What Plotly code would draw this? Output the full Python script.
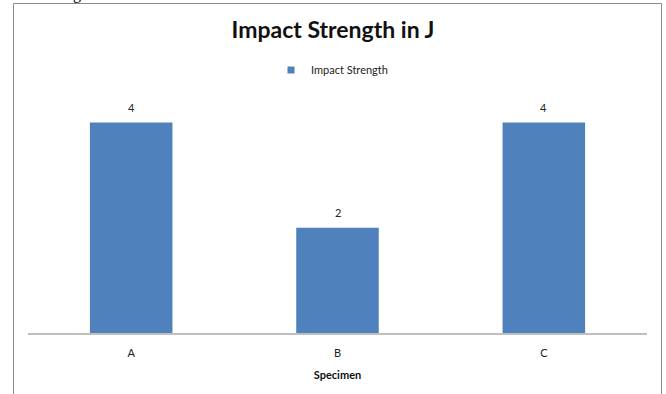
import plotly.graph_objects as go

# Impact test results per specimen
specimens = ["A", "B", "C"]
impact_strength = [4, 2, 4]

W, H = 666, 394
ML, MR, MT, MB = 28, 19, 70, 61
BAR_COLOR = "#4F81BD"
FONT = "Lato"

fig = go.Figure()

fig.add_trace(go.Bar(
    x=specimens,
    y=impact_strength,
    marker=dict(color=BAR_COLOR, line=dict(width=0)),
    showlegend=False,
    name="Impact Strength",
))

# value labels above each bar
for cat, val in zip(specimens, impact_strength):
    fig.add_annotation(
        x=cat, y=val, text=str(val), xref="x", yref="y",
        yanchor="bottom", yshift=7, showarrow=False,
        font=dict(family=FONT, size=11, color="#222222"),
    )

# legend key drawn as a small square
fig.add_trace(go.Scatter(
    x=[None], y=[None], mode="markers",
    marker=dict(symbol="square", size=7, color=BAR_COLOR),
    name="Impact Strength",
    showlegend=True,
))

pw = W - ML - MR
ph = H - MT - MB


def px_to_paper_x(px):
    return (px - ML) / pw


def px_to_paper_y(py):
    return (H - MB - py) / ph


# outer chart frame
fig.add_shape(
    type="rect", xref="paper", yref="paper",
    x0=px_to_paper_x(13.5), x1=px_to_paper_x(661.5),
    y0=px_to_paper_y(400), y1=px_to_paper_y(3.5),
    line=dict(color="#8c8c8c", width=1), fillcolor="rgba(0,0,0,0)",
    layer="below",
)

# fragment of surrounding text above the frame
fig.add_annotation(
    text="g", xref="paper", yref="paper",
    x=px_to_paper_x(71), y=px_to_paper_y(5), yanchor="bottom",
    showarrow=False, font=dict(family="Liberation Serif", size=16, color="#000000"),
)

fig.update_layout(
    width=W, height=H,
    margin=dict(l=ML, r=MR, t=MT, b=MB, pad=0, autoexpand=False),
    paper_bgcolor="white", plot_bgcolor="white",
    bargap=0.6,
    title=dict(
        text="<b>Impact Strength in J</b>",
        x=0.5, xref="container", xanchor="center",
        y=1 - 30 / H, yref="container", yanchor="middle",
        font=dict(family=FONT, size=23, color="#111111"),
    ),
    legend=dict(
        orientation="h",
        xref="paper", yref="paper",
        x=px_to_paper_x(271), xanchor="left",
        y=px_to_paper_y(70), yanchor="middle",
        font=dict(family=FONT, size=11, color="#222222"),
        bgcolor="rgba(0,0,0,0)",
    ),
    xaxis=dict(
        showline=True, linecolor="#bfbfbf", linewidth=2,
        ticks="", showgrid=False, zeroline=False,
        tickfont=dict(family=FONT, size=11, color="#222222"),
        ticklabelstandoff=9,
        automargin=False,
        title=dict(text="<b>Specimen</b>", standoff=13,
                   font=dict(family=FONT, size=11, color="#111111")),
    ),
    yaxis=dict(
        range=[0, 5], visible=False, showgrid=False, zeroline=False,
        automargin=False,
    ),
)

fig.write_html("out.html")
